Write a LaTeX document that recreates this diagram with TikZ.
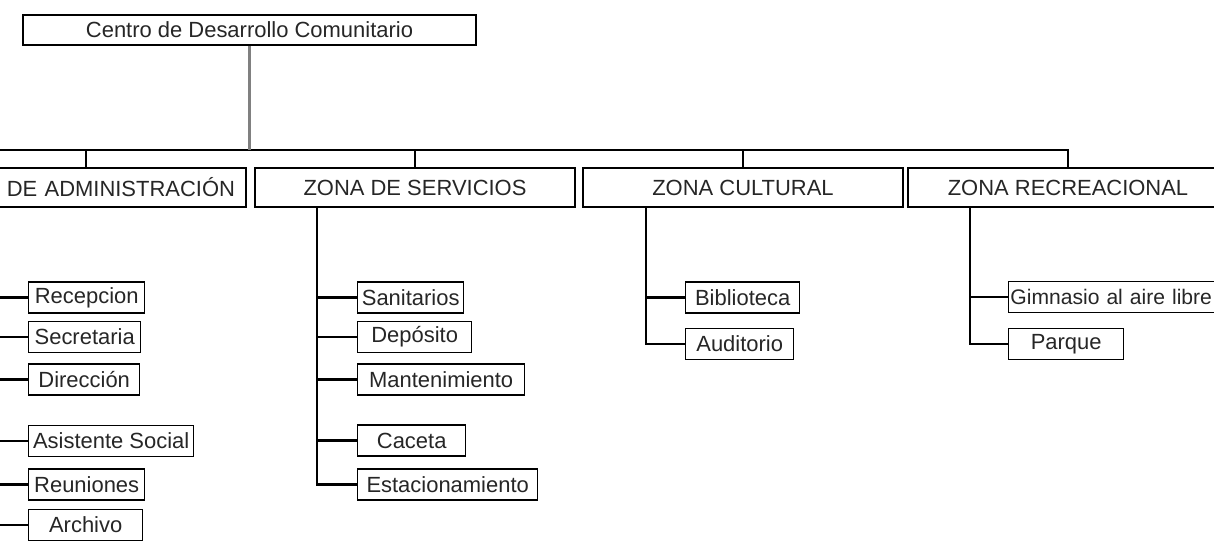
\documentclass[tikz,border=0pt]{standalone}
\usepackage{fontspec}
\setmainfont{Liberation Sans}
\usepackage{xcolor}
\usepackage{tikz}

\begin{document}
\begin{tikzpicture}[x=0.02cm, y=-0.02cm,
    every node/.style={font=\fontsize{12.5}{14}\selectfont, text=black!85},
    rootbox/.style={draw, line width=0.9pt, minimum width=9.06cm, minimum height=0.6cm, inner sep=0pt},
    zonebox/.style={draw, line width=1.4pt, minimum width=6.4cm, minimum height=0.78cm, inner sep=0pt},
    leaf/.style={draw, line width=0.8pt, anchor=west, minimum height=0.62cm, inner xsep=2pt, inner ysep=0pt},
    link/.style={line width=1.4pt},
    stem/.style={line width=1.2pt, black!50}]
    % Fix the frame and cut off what lies outside
    \path[use as bounding box, clip] (0,0) rectangle (1214,548);

    % Draw the top box
    \node[rootbox] (root) at (249.5,30) {Centro de Desarrollo Comunitario};

    % Draw the four zones
    \node[zonebox, text width=5.96cm, align=right, inner xsep=0.22cm] (admin) at (86,187.5) {DE ADMINISTRACIÓN};
    \node[zonebox] (serv) at (415,187.5) {ZONA DE SERVICIOS};
    \node[zonebox] (cult) at (743,187.5) {ZONA CULTURAL};
    \node[zonebox] (recr) at (1068,187.5) {ZONA RECREACIONAL};

    % Draw the bus between top box and zones
    \coordinate (busL) at (-30,150);
    \draw[link] (busL) -| (recr.north);
    \foreach \z in {admin,serv,cult}
        \draw[link] (\z.north) -- (\z.north |- busL);
    \draw[stem] (root.south) -- (root.south |- busL);

    % Draw the leaves of each zone
    \node[leaf, minimum width=2.32cm] (recep) at (28,297.5) {Recepcion};
    \node[leaf, minimum width=2.24cm] (secre) at (28,337) {Secretaria};
    \node[leaf, minimum width=2.22cm] (direc) at (28,379.5) {Dirección};
    \node[leaf, minimum width=3.3cm] (asist) at (28,441) {Asistente Social};
    \node[leaf, minimum width=2.32cm] (reuni) at (28,484.5) {Reuniones};
    \node[leaf, minimum width=2.28cm] (archi) at (28,525) {Archivo};

    \node[leaf, minimum width=2.12cm] (sanit) at (357,297.5) {Sanitarios};
    \node[leaf, minimum width=2.28cm] (depos) at (357,337) {Depósito};
    \node[leaf, minimum width=3.34cm] (mante) at (357,379.5) {Mantenimiento};
    \node[leaf, minimum width=2.16cm] (cacet) at (357,440.5) {Caceta};
    \node[leaf, minimum width=3.6cm] (estac) at (357,484.5) {Estacionamiento};

    \node[leaf, minimum width=2.28cm] (bibli) at (685,297.5) {Biblioteca};
    \node[leaf, minimum width=2.16cm] (audit) at (685,344) {Auditorio};

    \node[leaf, font=\fontsize{12}{14}\selectfont, inner xsep=1pt, text width=4.7cm, align=left] (gimna) at (1008,297) {Gimnasio al aire libre};
    \node[leaf, minimum width=2.3cm] (parqu) at (1008,344) {Parque};

    % Draw the trunks under each zone
    \path (admin.south west) ++(63,0) coordinate (adminT);
    \path (serv.south west) ++(63,0) coordinate (servT);
    \path (cult.south west) ++(64,0) coordinate (cultT);
    \path (recr.south west) ++(63,0) coordinate (recrT);
    \draw[link] (adminT) |- (archi.west);
    \draw[link] (servT) |- (estac.west);
    \draw[link] (cultT) |- (audit.west);
    \draw[link] (recrT) |- (parqu.west);
    \foreach \l in {recep,secre,direc,asist,reuni}
        \draw[link] (\l.west) -- (\l.west -| adminT);
    \foreach \l in {sanit,depos,mante,cacet}
        \draw[link] (\l.west) -- (\l.west -| servT);
    \draw[link] (bibli.west) -- (bibli.west -| cultT);
    \draw[link] (gimna.west) -- (gimna.west -| recrT);
\end{tikzpicture}
\end{document}
